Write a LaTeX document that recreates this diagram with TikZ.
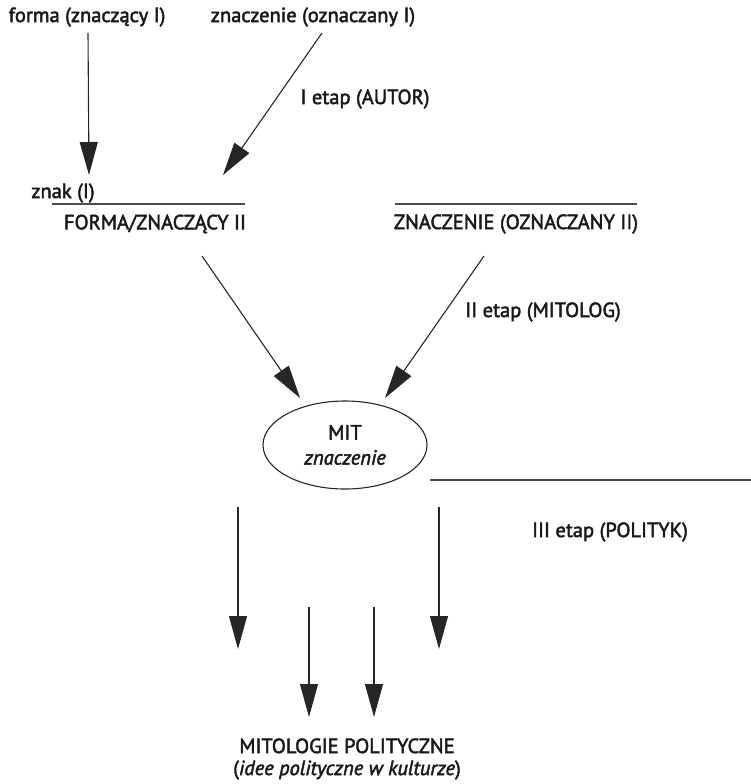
\documentclass[tikz,border=0pt]{standalone}
\usepackage{fontspec}
\setmainfont{PT Sans}
\newcommand{\heavy}{\special{pdf:literal direct 2 Tr 0.45 w}}
\usetikzlibrary{arrows.meta,shapes.geometric}
\begin{document}
\begin{tikzpicture}[x=1pt,y=-1pt,
  lbl/.style={inner sep=0pt,font=\heavy\fontsize{20.5}{24}\selectfont,text=black!90},
  con/.style={line width=1.1pt,draw=black!85},
  arr/.style={con,-{Triangle[length=33pt,width=18pt]}},
  rule/.style={line width=1.1pt,draw=black!70}]
\useasboundingbox (0,0) rectangle (751,784);
% top labels
\node[lbl] (forma) at (87,17) {forma (znaczący I)};
\node[lbl] (znacz) at (313,17) {znaczenie (oznaczany I)};
\node[lbl] (etap1) at (365,99) {I etap (AUTOR)};
\coordinate (a1s) at (88,33);
\coordinate (a1e) at (89,175);
\coordinate (a2s) at (322,33);
\coordinate (a2e) at (223,175);
\draw[arr] (a1s) -- (a1e);
\draw[arr] (a2s) -- (a2e);
% second level
\node[lbl] (znak) at (63,193) {znak (I)};
\coordinate (r1a) at (52,204);
\coordinate (r1b) at (245,204);
\draw[rule] (r1a) -- (r1b);
\node[lbl] (forma2) at (155,224) {FORMA/ZNACZĄCY II};
\coordinate (r2a) at (395,204);
\coordinate (r2b) at (637,204);
\draw[rule] (r2a) -- (r2b);
\node[lbl] (znacz2) at (516,224) {ZNACZENIE (OZNACZANY II)};
\node[lbl] (etap2) at (543,312) {II etap (MITOLOG)};
\coordinate (b1s) at (202,256);
\coordinate (b1e) at (300,398);
\coordinate (b2s) at (484,256);
\coordinate (b2e) at (385,398);
\draw[arr] (b1s) -- (b1e);
\draw[arr] (b2s) -- (b2e);
% myth
\node[ellipse,draw=black!85,line width=1.1pt,minimum width=164pt,minimum height=88pt,inner sep=0pt,
  align=center,font=\heavy\fontsize{20.5}{25}\selectfont,text=black!90] (mit) at (345,445) {MIT\\\textit{znaczenie}};
\coordinate (r3a) at (430,480);
\coordinate (r3b) at (751,480);
\draw[rule] (r3a) -- (r3b);
\node[lbl] (etap3) at (610,532) {III etap (POLITYK)};
% bottom arrows
\coordinate (c1s) at (238,507);
\coordinate (c1e) at (238,649);
\coordinate (c2s) at (439,507);
\coordinate (c2e) at (439,649);
\coordinate (c3s) at (309,607);
\coordinate (c3e) at (309,717);
\coordinate (c4s) at (374,607);
\coordinate (c4e) at (374,717);
\draw[arr] (c1s) -- (c1e);
\draw[arr] (c2s) -- (c2e);
\draw[arr] (c3s) -- (c3e);
\draw[arr] (c4s) -- (c4e);
\node[lbl,align=center,font=\heavy\fontsize{20.5}{22}\selectfont] (polit) at (347,759) {MITOLOGIE POLITYCZNE\\(\textit{idee polityczne w kulturze})};
\end{tikzpicture}
\end{document}
